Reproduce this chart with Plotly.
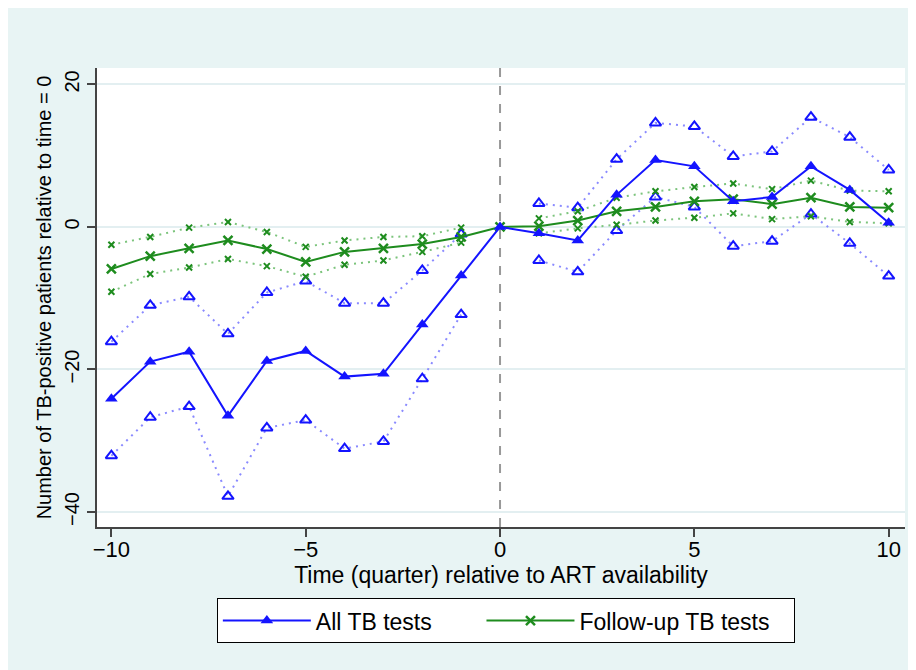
import plotly.graph_objects as go

quarters = list(range(-10, 11))

all_tb = [-24.1, -18.9, -17.5, -26.5, -18.8, -17.4, -21.0, -20.6, -13.7, -6.8, 0.0,
          -0.9, -1.9, 4.5, 9.4, 8.5, 3.6, 4.2, 8.5, 5.2, 0.6]
all_tb_hi = [-16.1, -11.0, -9.8, -15.0, -9.2, -7.6, -10.7, -10.7, -6.1, -1.0, None,
             3.3, 2.7, 9.5, 14.6, 14.1, 9.9, 10.6, 15.4, 12.6, 8.0]
all_tb_lo = [-32.1, -26.7, -25.2, -37.8, -28.2, -27.1, -31.1, -30.1, -21.3, -12.3, None,
             -4.7, -6.3, -0.5, 4.2, 2.8, -2.7, -2.0, 1.8, -2.3, -6.9]

fu_tb = [-5.9, -4.1, -3.0, -1.9, -3.1, -4.9, -3.5, -3.0, -2.4, -1.4, 0.0,
         0.1, 0.9, 2.2, 2.8, 3.6, 3.9, 3.2, 4.1, 2.8, 2.7]
fu_tb_hi = [-2.5, -1.4, -0.1, 0.7, -0.7, -2.8, -1.9, -1.4, -1.3, -0.1, None,
            1.2, 2.2, 4.1, 5.0, 5.6, 6.1, 5.3, 6.5, 5.1, 5.0]
fu_tb_lo = [-9.1, -6.6, -5.7, -4.5, -5.5, -7.0, -5.3, -4.7, -3.5, -2.2, None,
            -0.9, -0.2, 0.3, 0.9, 1.3, 1.9, 1.1, 1.5, 0.7, 0.5]

x_ticks = [-10, -5, 0, 5, 10]
x_tick_labels = ["\u221210", "\u22125", "0", "5", "10"]
y_ticks = [-40, -20, 0, 20]
y_tick_labels = ["\u221240", "\u221220", "0", "20"]

series_names = ["All TB tests", "Follow-up TB tests"]

BLUE = "#1414ff"
BLUE_LIGHT = "#8a8aff"
GREEN = "#1e8c1e"
GREEN_LIGHT = "#7cc47c"
BG = "#e8f4f4"
FONT = "Liberation Sans, Arial, sans-serif"
NBSP = "\u00a0"

fig = go.Figure()

# confidence bands (dotted)
for ys, col, mcol, sym, msize in [
    (all_tb_hi, BLUE_LIGHT, BLUE, "triangle-up-open", 10),
    (all_tb_lo, BLUE_LIGHT, BLUE, "triangle-up-open", 10),
    (fu_tb_hi, GREEN_LIGHT, GREEN, "x-thin-open", 6),
    (fu_tb_lo, GREEN_LIGHT, GREEN, "x-thin-open", 6),
]:
    fig.add_trace(go.Scatter(
        x=quarters, y=ys, mode="lines+markers", showlegend=False,
        line=dict(color=col, width=2, dash="2px,5px"),
        marker=dict(symbol=sym, size=msize, color=mcol, line=dict(color=mcol, width=2)),
        connectgaps=False, hoverinfo="skip",
    ))

fig.add_trace(go.Scatter(
    x=quarters, y=fu_tb, mode="lines+markers", name=series_names[1] + NBSP * 3,
    line=dict(color=GREEN, width=2),
    marker=dict(symbol="x-thin-open", size=9, color=GREEN, line=dict(color=GREEN, width=2.5)),
))
fig.add_trace(go.Scatter(
    x=quarters, y=all_tb, mode="lines+markers", name=series_names[0] + NBSP * 7,
    line=dict(color=BLUE, width=2),
    marker=dict(symbol="triangle-up", size=11, color=BLUE),
))

# vertical dashed reference line at time 0
fig.add_shape(type="line", xref="x", yref="paper", x0=0, x1=0, y0=0, y1=1,
              line=dict(color="#999999", width=2, dash="dash"), layer="below")

fig.update_layout(
    width=908, height=662,
    margin=dict(l=89, r=11, t=60, b=143, autoexpand=False),
    paper_bgcolor=BG, plot_bgcolor="white",
    font=dict(family=FONT, size=20, color="black"),
    xaxis=dict(
        range=[-10.37, 10.42], tickmode="array", tickvals=x_ticks, ticktext=x_tick_labels,
        showgrid=False, zeroline=False, showline=True, linecolor="#444444", linewidth=1.5,
        ticks="outside", ticklen=8, tickwidth=1.5, tickcolor="#444444",
        tickfont=dict(size=22), automargin=False, ticklabelstandoff=-6,
        title=dict(text="Time (quarter) relative to ART availability", font=dict(size=23), standoff=2),
    ),
    yaxis=dict(
        range=[-42.1, 22.3], tickmode="array", tickvals=y_ticks, ticktext=y_tick_labels,
        tickangle=-90,
        showgrid=True, gridcolor="#e3eff1", gridwidth=2, zeroline=False,
        showline=True, linecolor="#444444", linewidth=1.5,
        ticks="outside", ticklen=8, tickwidth=1.5, tickcolor="#444444",
        tickfont=dict(size=20), automargin=False,
        title=dict(text="Number of TB-positive patients relative to time = 0", font=dict(size=20), standoff=4),
    ),
    legend=dict(
        orientation="h", x=0.506, xanchor="center", y=-0.155, yanchor="top",
        bgcolor="white", bordercolor="black", borderwidth=1,
        font=dict(size=23), itemwidth=88, traceorder="reversed",
    ),
)

fig.write_html("out.html")
